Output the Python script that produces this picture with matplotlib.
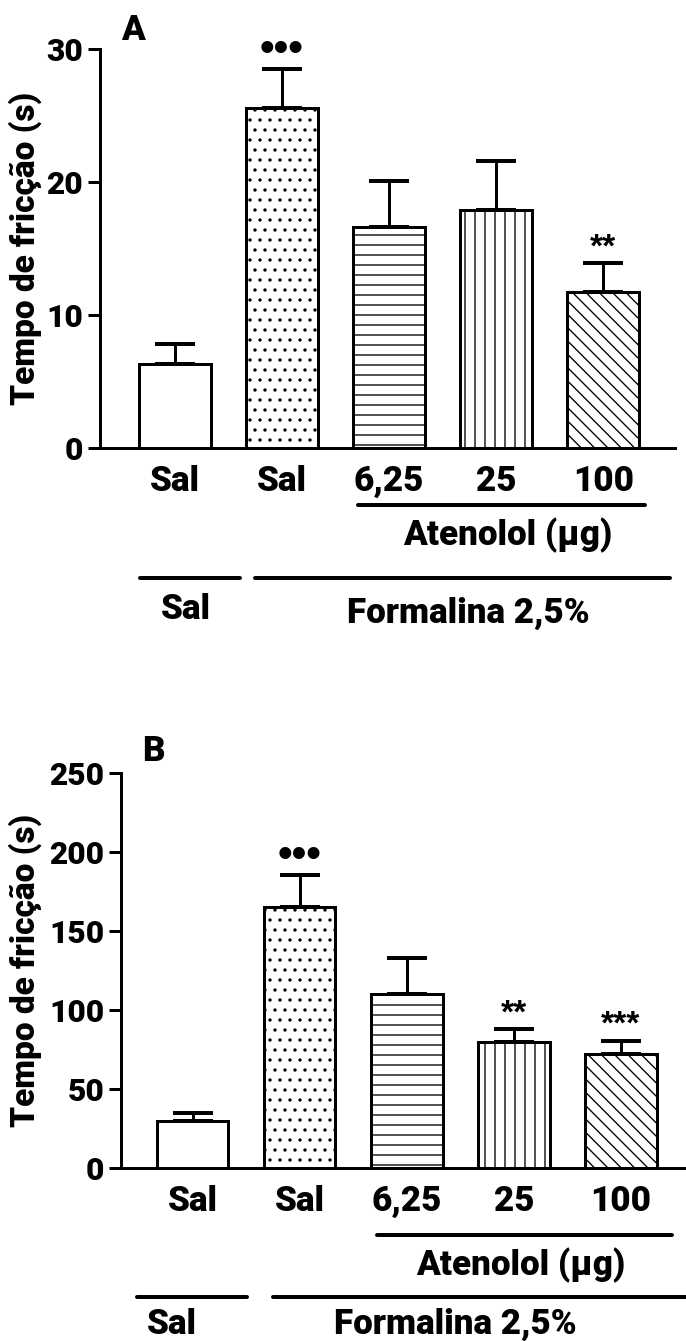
import matplotlib
matplotlib.use('Agg')
import matplotlib.pyplot as plt
from matplotlib.transforms import blended_transform_factory

FS = 21
FS_Y = 19
PESO = 'heavy'
plt.rcParams['font.family'] = ['Roboto', 'DejaVu Sans']
plt.rcParams['font.weight'] = PESO
plt.rcParams['hatch.linewidth'] = 0.8

grupos = ['Sal', 'Sal', '6,25', '25', '100']
hachuras = ['', '..', '--', '||', '\\\\\\']

# painel A
media_a = [6.3, 25.6, 16.6, 17.9, 11.7]
epm_a = [1.5, 2.9, 3.45, 3.7, 2.2]
marca_a = ['', '•••', '', '', '**']
yticks_a = [0, 10, 20, 30]

# painel B
media_b = [29.5, 165.4, 110, 80, 72]
epm_b = [5, 20, 23, 8, 8.6]
marca_b = ['', '•••', '', '**', '***']
yticks_b = [0, 50, 100, 150, 200, 250]

DPI = 120
W, H = 686, 1341


def painel(fig, rect, media, epm, marcas, yticks, xlim, letra, letra_xy, deco):
    # rect em pixels: esquerda, topo, direita, base
    l, t, r, b = rect
    ax = fig.add_axes([l / W, 1 - b / H, (r - l) / W, (b - t) / H])
    x = list(range(len(media)))
    ax.errorbar(x, media, yerr=[[0] * len(epm), epm], fmt='none', ecolor='black',
                elinewidth=1.8, capsize=12, capthick=2.4, zorder=1)
    for i in x:
        ax.bar(i, media[i], width=0.67, facecolor='white', edgecolor='black',
               linewidth=1.8, hatch=hachuras[i], zorder=2)
        if marcas[i]:
            if '•' in marcas[i]:
                ax.annotate(marcas[i], (i, media[i] + epm[i]), xytext=(0, 5),
                            textcoords='offset points', ha='center', va='baseline',
                            fontsize=25, family=['Liberation Sans', 'DejaVu Sans'])
            else:
                ax.annotate(marcas[i], (i, media[i] + epm[i]), xytext=(0, 4),
                            textcoords='offset points', ha='center', va='baseline',
                            fontsize=20, fontweight='bold',
                            family=['Liberation Sans', 'DejaVu Sans'])
    ax.set_xlim(*xlim)
    ax.set_ylim(yticks[0], yticks[-1])
    ax.set_yticks(yticks)
    ax.set_xticks(x)
    ax.set_xticklabels(grupos, fontsize=FS, fontweight=PESO)
    ax.tick_params(axis='x', length=0, pad=10)
    ax.tick_params(axis='y', length=7.2, width=1.8, pad=3, labelsize=FS_Y)
    for s in ['top', 'right']:
        ax.spines[s].set_visible(False)
    for s in ['left', 'bottom']:
        ax.spines[s].set_linewidth(1.8)
    ax.set_ylabel('Tempo de fricção (s)', fontsize=20, fontweight=PESO, va='center')
    ax.yaxis.set_label_coords((25 - l) / (r - l), 0.5)

    tr = blended_transform_factory(ax.transData, ax.transAxes)
    for (x0, x1, yy) in deco['linhas']:
        ax.plot([x0, x1], [yy, yy], color='black', lw=2.4, solid_capstyle='round',
                transform=tr, clip_on=False)
    for (xx, yy, txt) in deco['textos']:
        ax.text(xx, yy, txt, transform=tr, ha='center', va='center', fontsize=FS,
                fontweight=PESO)
    fig.text(letra_xy[0] / W, 1 - letra_xy[1] / H, letra, fontsize=FS,
             fontweight=PESO, ha='center', va='center')
    return ax


fig = plt.figure(figsize=(W / DPI, H / DPI), dpi=DPI)

deco_a = {
    'linhas': [(1.71, 4.39, -0.143), (-0.33, 0.61, -0.326), (0.75, 4.62, -0.326)],
    'textos': [(3.11, -0.218, 'Atenolol (μg)'), (0.10, -0.406, 'Sal'),
               (2.74, -0.414, 'Formalina 2,5%')],
}
painel(fig, (100, 49, 675, 448), media_a, epm_a, marca_a, yticks_a,
       (-0.70, 4.67), 'A', (133, 30), deco_a)

deco_b = {
    'linhas': [(1.72, 4.48, -0.170), (-0.52, 0.51, -0.327), (0.75, 4.61, -0.327)],
    'textos': [(3.06, -0.246, 'Atenolol (μg)'), (-0.19, -0.397, 'Sal'),
               (2.45, -0.397, 'Formalina 2,5%')],
}
painel(fig, (121, 773, 686, 1168), media_b, epm_b, marca_b, yticks_b,
       (-0.668, 4.608), 'B', (153, 752), deco_b)

fig.savefig('out.png', dpi=DPI)
